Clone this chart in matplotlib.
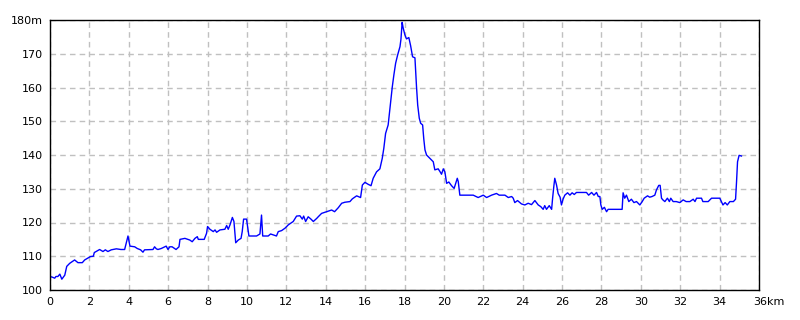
import numpy as np
import matplotlib
matplotlib.use("Agg")
import matplotlib.pyplot as plt
import matplotlib.transforms as mtransforms

# Elevation profile (distance in km, elevation in m)
dist_km = [
    0.0, 0.12, 0.24, 0.3, 0.4, 0.5, 0.6, 0.75, 0.85, 1.0, 1.25, 1.42, 1.64, 1.76, 1.96,
    2.05, 2.2, 2.25, 2.52, 2.69, 2.81, 2.94, 3.11, 3.37, 3.6, 3.79, 3.89, 3.96, 4.06,
    4.3, 4.43, 4.6, 4.72, 4.8, 5.23, 5.31, 5.4, 5.48, 5.65, 5.9, 5.99, 6.08, 6.2, 6.4,
    6.55, 6.6, 6.85, 7.1, 7.22, 7.36, 7.48, 7.53, 7.83, 7.95, 8.0, 8.12, 8.29, 8.38,
    8.46, 8.63, 8.88, 8.97, 9.05, 9.14, 9.26, 9.34, 9.43, 9.56, 9.7, 9.76, 9.83, 9.98,
    10.1, 10.49, 10.66, 10.74, 10.8, 11.08, 11.2, 11.5, 11.59, 11.76, 11.93, 12.1,
    12.35, 12.52, 12.69, 12.81, 12.88, 12.98, 13.11, 13.25, 13.37, 13.54, 13.62, 13.79,
    14.04, 14.3, 14.45, 14.64, 14.81, 14.97, 15.23, 15.35, 15.57, 15.77, 15.86, 15.99,
    16.16, 16.3, 16.41, 16.58, 16.75, 16.87, 16.95, 17.04, 17.17, 17.26, 17.31, 17.38,
    17.46, 17.55, 17.65, 17.77, 17.82, 17.88, 17.93, 18.02, 18.1, 18.22, 18.31, 18.41,
    18.53, 18.61, 18.67, 18.75, 18.82, 18.92, 18.98, 19.04, 19.12, 19.29, 19.46, 19.54,
    19.71, 19.8, 19.88, 19.97, 20.05, 20.14, 20.25, 20.39, 20.52, 20.68, 20.73, 20.81,
    21.15, 21.49, 21.74, 22.0, 22.17, 22.42, 22.67, 22.81, 23.1, 23.27, 23.44, 23.52,
    23.6, 23.74, 23.94, 24.11, 24.28, 24.45, 24.62, 24.79, 24.92, 25.04, 25.12, 25.21,
    25.35, 25.47, 25.52, 25.58, 25.63, 25.72, 25.8, 25.9, 25.97, 26.05, 26.14, 26.28,
    26.4, 26.51, 26.62, 26.73, 27.24, 27.35, 27.5, 27.62, 27.75, 27.84, 27.92, 27.97,
    28.04, 28.15, 28.26, 28.34, 29.05, 29.1, 29.18, 29.27, 29.39, 29.52, 29.65, 29.78,
    29.95, 30.07, 30.17, 30.34, 30.45, 30.57, 30.71, 30.79, 30.91, 30.98, 31.05, 31.12,
    31.22, 31.35, 31.45, 31.52, 31.64, 31.8, 31.98, 32.15, 32.3, 32.49, 32.66, 32.75,
    32.83, 33.08, 33.15, 33.42, 33.59, 34.01, 34.09, 34.17, 34.28, 34.39, 34.52, 34.7,
    34.81, 34.86, 34.91, 34.99, 35.11,
]
elev_m = [
    104.0, 103.8, 103.5, 104.0, 104.0, 104.7, 103.2, 104.4, 107.0, 107.9, 108.9, 108.1,
    108.1, 108.9, 109.6, 109.9, 110.0, 111.1, 112.0, 111.4, 111.9, 111.4, 111.9, 112.2,
    112.0, 112.0, 114.3, 116.0, 113.0, 112.8, 112.3, 111.9, 111.2, 111.9, 112.0, 112.8,
    112.2, 112.0, 112.3, 113.0, 112.0, 112.8, 112.8, 112.0, 112.8, 115.0, 115.3, 114.8,
    114.3, 115.3, 115.8, 115.0, 115.0, 116.8, 118.8, 118.0, 117.3, 117.8, 117.1, 117.8,
    118.0, 119.1, 118.0, 119.3, 121.5, 120.3, 114.0, 114.8, 115.3, 117.3, 121.0, 121.0,
    116.0, 116.0, 116.6, 122.2, 116.0, 116.0, 116.6, 116.0, 117.3, 117.6, 118.3, 119.3,
    120.3, 121.9, 122.0, 121.0, 121.9, 120.3, 121.7, 121.0, 120.3, 121.2, 121.7, 122.7,
    123.2, 123.7, 123.2, 124.4, 125.7, 126.0, 126.2, 127.0, 127.9, 127.4, 131.1, 131.9,
    131.3, 130.9, 133.1, 135.0, 135.9, 139.0, 142.0, 146.4, 148.9, 153.8, 156.8, 160.2,
    163.7, 167.2, 169.6, 172.1, 174.3, 179.3, 177.7, 175.6, 174.4, 174.8, 172.4, 169.1,
    168.8, 160.2, 154.8, 150.9, 149.4, 148.9, 144.7, 141.5, 140.0, 139.0, 138.0, 135.6,
    135.9, 135.1, 134.3, 135.9, 135.0, 131.6, 132.0, 130.9, 130.1, 133.1, 132.1, 128.1,
    128.1, 128.1, 127.4, 128.1, 127.4, 128.1, 128.6, 128.1, 128.1, 127.4, 127.7, 127.2,
    125.9, 126.5, 125.5, 125.2, 125.7, 125.3, 126.5, 125.2, 124.7, 123.9, 125.0, 123.9,
    125.0, 123.9, 127.2, 130.6, 133.1, 131.1, 128.6, 127.5, 125.2, 126.9, 128.1, 128.8,
    128.1, 128.8, 128.3, 128.9, 128.9, 128.1, 128.9, 128.1, 128.9, 127.7, 127.7, 125.2,
    123.9, 124.5, 123.2, 123.9, 123.9, 128.8, 127.2, 128.1, 126.2, 126.9, 125.9, 126.2,
    125.2, 126.2, 127.2, 127.9, 127.5, 127.7, 128.1, 129.6, 131.0, 131.0, 127.2, 126.7,
    126.2, 127.2, 126.2, 127.2, 126.2, 126.2, 125.9, 126.7, 126.2, 126.2, 126.9, 126.2,
    127.2, 127.2, 126.2, 126.2, 127.2, 127.2, 126.2, 125.2, 125.9, 125.2, 126.2, 126.2,
    126.9, 132.1, 138.0, 139.9, 139.7,
]

x_ticks = list(range(0, 37, 2))
x_labels = [str(v) for v in x_ticks[:-1]] + ["36km"]
y_ticks = list(range(100, 181, 10))
y_labels = [str(v) for v in y_ticks[:-1]] + ["180m"]

if __name__ == "__main__":
    fig = plt.figure(figsize=(8, 3.2), dpi=100)
    ax = fig.add_axes([50 / 800, 30 / 320, 709 / 800, 270 / 320])

    ax.plot(dist_km, elev_m, color="#0000ff", linewidth=1.0)

    ax.set_xlim(0, 36)
    ax.set_ylim(100, 180)
    ax.set_xticks(x_ticks)
    ax.set_xticklabels(x_labels)
    ax.set_yticks(y_ticks)
    ax.set_yticklabels(y_labels)
    ax.tick_params(length=0, labelsize=8, pad=5, colors="black")

    # the "36km" label: number centred on the tick, unit trailing
    last = ax.get_xticklabels()[-1]
    last.set_horizontalalignment("left")
    last.set_transform(last.get_transform() + mtransforms.ScaledTranslation(-6 / 100, 0, fig.dpi_scale_trans))

    ax.grid(True, color="#c0c0c0", linestyle=(0, (4, 3)), linewidth=1.0)
    ax.set_axisbelow(True)
    for sp in ax.spines.values():
        sp.set_color("black")
        sp.set_linewidth(1.0)

    fig.savefig("out.png", dpi=100)
